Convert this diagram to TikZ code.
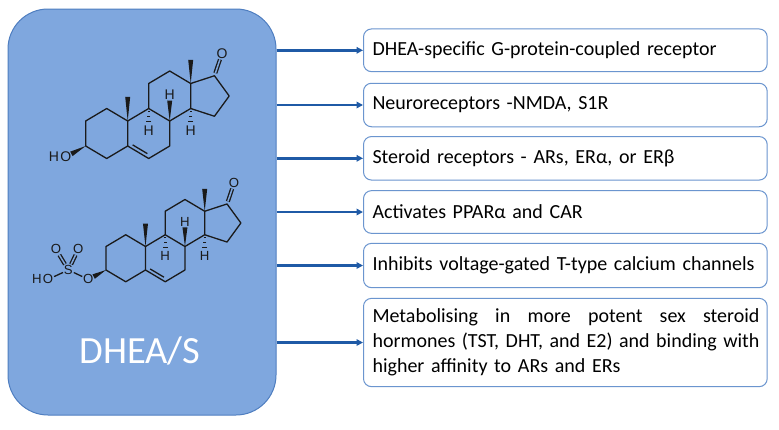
\documentclass[tikz,border=0pt]{standalone}
\usepackage{fontspec}
\setmainfont{Carlito}
\newfontfamily\molfont{Liberation Sans}
\usetikzlibrary{calc,arrows.meta}
\definecolor{lbfill}{HTML}{7FA7DE}
\definecolor{lbdraw}{HTML}{4F7EC0}
\definecolor{arrowc}{HTML}{1F5AA6}
\definecolor{rbdraw}{HTML}{6B95CF}
\definecolor{bondc}{HTML}{1A1A1A}
\def\atomsz{14}
\tikzset{
  bond/.style={draw=bondc,line width=1.3pt,line join=round},
  atom/.style={inner sep=0.8pt,text=bondc,font=\molfont\fontsize{\atomsz}{\atomsz}\selectfont},
  dbond/.style={bond,double=lbfill,double distance=1.5pt},
  lbox/.style={draw=lbdraw,fill=lbfill,line width=1pt,rounded corners=40pt,minimum width=268pt,minimum height=406pt,inner sep=0pt},
  rbox/.style={draw=rbdraw,fill=white,line width=1pt,rounded corners=8pt,minimum width=403.7pt,text width=385.7pt,inner xsep=9pt,inner ysep=0pt,align=left,font=\fontsize{20}{25}\selectfont,anchor=west},
  arr/.style={draw=arrowc,line width=2.4pt,-{Triangle[length=6.5pt,width=6.5pt]}},
}
\newcommand\wedgeb[2]{\fill[bondc] (#1) -- ($(#2)!2.5pt!90:(#1)$) -- ($(#2)!2.5pt!-90:(#1)$) -- cycle;}
\newcommand\hashb[2]{\foreach \t/\w in {0.2/0.8,0.5/1.6,0.8/2.4}{%
  \coordinate (hb) at ($(#1)!\t!(#2)$);
  \draw[bondc,line width=1.1pt] ($(hb)!\w pt!90:(#2)$) -- ($(hb)!\w pt!-90:(#2)$);}}
\newcommand\jline[1]{\makebox[387pt][s]{\spaceskip=0pt\xspaceskip=0pt #1}}
\newcommand\steroidcore{%
  \coordinate (C3) at (0,0);
  \coordinate (C2) at (0,-1);
  \coordinate (C1) at (0.84,-1.5);
  \coordinate (C10) at (1.68,-1);
  \coordinate (C5) at (1.68,0);
  \coordinate (C4) at (0.84,0.5);
  \coordinate (C9) at (2.52,-1.5);
  \coordinate (C8) at (3.36,-1);
  \coordinate (C7) at (3.36,0);
  \coordinate (C6) at (2.52,0.5);
  \coordinate (C11) at (2.52,-2.5);
  \coordinate (C12) at (3.36,-3);
  \coordinate (C13) at (4.2,-2.5);
  \coordinate (C14) at (4.2,-1.5);
  \coordinate (C17) at (5.15,-2.81);
  \coordinate (C16) at (5.74,-2);
  \coordinate (C15) at (5.15,-1.19);
  \coordinate (Me10) at (1.68,-1.97);
  \coordinate (Me13) at (4.2,-3.45);
  \node[atom] (O17) at (5.45,-3.7) {O};
  \draw[dbond] ($(C17)!0.12!(O17)$) -- (O17);
  \draw[bond] (C3)--(C2)--(C1)--(C10)--(C5)--(C4)--cycle;
  \draw[bond] (C10)--(C9)--(C8)--(C7)--(C6)--(C5);
  \draw[bond] (C9)--(C11)--(C12)--(C13)--(C14)--(C8);
  \draw[bond] (C13)--(C17)--(C16)--(C15)--(C14);
  \draw[bond] (1.878,-0.045)--(2.466,0.305);
  \node[atom] (H8) at (3.36,-2.05) {H};
  \node[atom] (H9) at (2.52,-0.6) {H};
  \node[atom] (H14) at (4.2,-0.6) {H};
  \wedgeb{C10}{Me10}
  \wedgeb{C13}{Me13}
  \wedgeb{C8}{H8.south}
  \hashb{C9}{H9.north}
  \hashb{C14}{H14.north}
}
\begin{document}
\begin{tikzpicture}[x=1pt,y=-1pt]
\useasboundingbox (0,0) rectangle (779,429);
\fill[white] (0,0) rectangle (779,429);
\node[lbox] (lb) at (142,212) {};
% DHEA
\begin{scope}[shift={(85.7pt,-146pt)},x=25pt,y=-25pt]
  \steroidcore
  \node[atom] (O3) at (-0.8,0.44) {O};
  \node[atom,anchor=east,inner xsep=0pt] (H3) at (O3.west) {H};
  \coordinate (O3e) at ($(O3)!6.5pt!(C3)$);
  \wedgeb{C3}{O3e}
\end{scope}
% DHEA-S
\def\atomsz{13.2}
\begin{scope}[shift={(106pt,-270pt)},x=23.5pt,y=-23.5pt]
  \steroidcore
  \node[atom] (O3) at (-0.75,0.4) {O};
  \node[atom] (S) at (-1.6,0) {S};
  \node[atom] (Oa) at (-2.13,-0.88) {O};
  \node[atom] (Ob) at (-1.18,-0.88) {O};
  \node[atom] (HOo) at (-2.47,0.4) {O};
  \node[atom,anchor=east,inner xsep=0pt] (HOh) at (HOo.west) {H};
  \coordinate (O3e) at ($(O3)!6pt!(C3)$);
  \wedgeb{C3}{O3e}
  \draw[bond] (O3) -- (S);
  \draw[bond] (S) -- (HOo);
  \draw[dbond] (S) -- (Oa);
  \draw[dbond] (S) -- (Ob);
\end{scope}
\node[text=white,font=\fontsize{38.5}{40}\selectfont,anchor=base,inner sep=0pt] (lbl) at (140,363.3) {DHEA/S};
% right boxes
\node[rbox,minimum height=42.7pt] (b1) at (363,50.3) {DHEA-specific G-protein-coupled receptor};
\node[rbox,minimum height=43.5pt] (b2) at (363,105) {Neuroreceptors -NMDA, S1R};
\node[rbox,minimum height=43.5pt] (b3) at (363,158.3) {Steroid receptors - ARs, ERα, or ERβ};
\node[rbox,minimum height=42.7pt] (b4) at (363,212) {Activates PPARα and CAR};
\node[rbox,minimum height=44.3pt] (b5) at (363,265.5) {Inhibits voltage-gated T-type calcium channels};
\node[rbox,minimum height=88.3pt] (b6) at (363,342.5) {\jline{Metabolising in more potent sex steroid}\\\jline{hormones (TST, DHT, and E2) and binding with}\\higher affinity to ARs and ERs};
% arrows
\foreach \b in {b1,b2,b3,b4,b5,b6}{
  \draw[arr] (lb.east |- \b.west) -- (\b.west);
}
\end{tikzpicture}
\end{document}
